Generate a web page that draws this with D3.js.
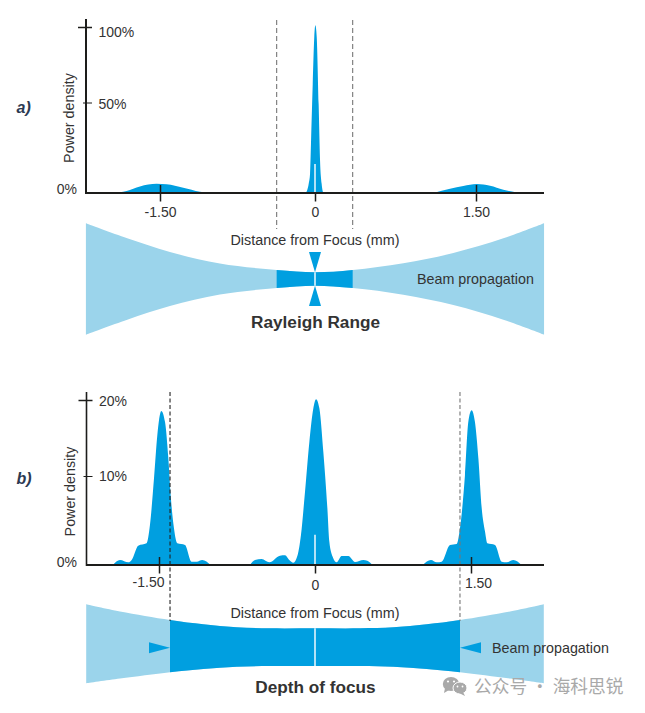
<!DOCTYPE html>
<html><head><meta charset="utf-8">
<script src="https://cdn.jsdelivr.net/npm/d3@7"></script>
<style>
html,body{margin:0;padding:0;background:#fff}
svg{display:block}
text{font-family:"Liberation Sans",Arial,sans-serif;fill:#333}
</style></head><body>
<svg id="c" width="645" height="713"></svg>
<script>
// ---------- data (mm, %) ----------
const panelATicks=[-1.5,0,1.5];
const panelATickLabels=["-1.50","0","1.50"];
const yATicks=[0,50,100];
const yBTicks=[0,10,20];

const aLeftLobeX=[-1.955,-1.823,-1.694,-1.533,-1.436,-1.275,-1.113,-1.007];
const aLeftLobeY=[0,1.1,3.66,5.1,4.78,2.9,.71,0];
const aCentreX=[-.087,-.061,-.048,-.039,-.022,-.007,.003,.016,.034,.047,.062,.077];
const aCentreY=[0,5.1,10.6,27.1,62.2,93.3,101.1,93.3,49.1,18,5.1,0];
const aRightLobeX=[1.103,1.258,1.382,1.507,1.631,1.755,1.895];
const aRightLobeY=[0,2.4,3.85,4.95,4,1.8,0];

const bLeftX=[-1.945,-1.875,-1.795,-1.763,-1.70,-1.62,-1.587,-1.548,-1.516,-1.478,-1.442,-1.41,-1.388,-1.356,-1.324,-1.25,-1.186,-1.137,-1.084,-1.003];
const bLeftY=[0,.56,.3,.56,2.17,2.44,4.5,9.74,15.4,18.55,17.1,12.3,7.87,4.12,2.44,2.25,.37,.37,.56,0];
const bCentreX=[-.625,-.577,-.513,-.439,-.337,-.288,-.247,-.208,-.167,-.135,-.096,-.054,-.016,.010,.042,.080,.119,.138,.170,.208,.256,.321,.385,.465,.503,.554];
const bCentreY=[0,.56,.67,.3,1.04,1.09,.56,.26,1.12,3.37,8.24,14.5,18.9,20.1,18.9,13.2,6.37,2.62,.93,.3,1.01,1.01,.34,.56,.48,0];
const bRightX=[1.035,1.115,1.170,1.218,1.298,1.362,1.394,1.442,1.474,1.506,1.538,1.571,1.603,1.635,1.657,1.731,1.795,1.843,1.907,1.987];
const bRightY=[0,.56,.3,.37,2.25,2.36,4.12,10.13,17.1,18.65,17.1,12.3,6.37,3.74,2.44,2.25,.37,.3,.56,0];

// beam envelopes (distance mm, half-width in beam units)
const aBeamX=[-2.217,-1.817,-1.404,-.92,-.371,0,.351,.823,1.289,1.755,2.134];
const aBeamHalf=[55.7,40.7,27,15.5,9,6.7,9,15.7,26,40.7,55.7];
const bBeamX=[-2.2,-1.875,-1.394,-1.074,-.753,-.433,0,.433,.753,1.074,1.394,1.875,2.2];
const bBeamTop=[39.7,32.5,24,19.7,16.7,15.7,15.7,15.7,16.7,19.7,24,32.5,39.7];
const bBeamBottom=[39.3,34.6,28.3,25,22.7,22,22,22,22.7,25,28.3,34.6,39.3];
const rayleighLimits=[-.371,.351];
const depthLimits=[-1.394,1.394];

// ---------- drawing ----------
const LIGHT="#9bd4eb",DARK="#009fe0",INK="#1d1d1b";
const svg=d3.select("#c");
const zip=(xs,ys)=>xs.map((x,i)=>[x,ys[i]]);

function panel(o){
  const x=d3.scaleLinear().domain([-1.5,0,1.5]).range(o.xRange);
  const y=d3.scaleLinear().domain(o.yDomain).range(o.yRange);
  const beam=d3.scaleLinear().domain([-60,60]).range([o.beamC+60,o.beamC-60]);
  const g=svg.append("g");
  const area=d3.area().x(d=>x(d[0])).y0(y(0)).y1(d=>y(d[1])).curve(d3.curveMonotoneX);
  o.peaks.forEach(p=>g.append("path").attr("d",area(p)).attr("fill",DARK));
  // slit in central peak
  g.append("line").attr("x1",x(0)).attr("x2",x(0)).attr("y1",y(o.slit)).attr("y2",y(0))
    .attr("stroke","#fff").attr("stroke-width",1.4);

  // beam
  const top=o.beamTop, bot=o.beamBot;
  const pts=o.beamX.map((d,i)=>({d,t:top[i],b:bot[i]}));
  const ba=d3.area().x(d=>x(d.d)).y0(d=>beam(-d.b)).y1(d=>beam(d.t)).curve(d3.curveCatmullRom.alpha(0.5));
  g.append("path").attr("d",ba(pts)).attr("fill",LIGHT);
  const clipId="clip"+o.id;
  g.append("clipPath").attr("id",clipId).append("rect")
    .attr("x",x(o.limits[0])).attr("width",x(o.limits[1])-x(o.limits[0])).attr("y",o.beamC-70).attr("height",140);
  g.append("path").attr("d",ba(pts)).attr("fill",DARK).attr("clip-path",`url(#${clipId})`);
  g.append("line").attr("x1",x(0)).attr("x2",x(0)).attr("y1",beam(top[o.beamX.indexOf(0)])).attr("y2",beam(-bot[o.beamX.indexOf(0)]))
    .attr("stroke","#fff").attr("stroke-width",1.4);

  // dashed limits
  o.limits.forEach((l,i)=>g.append("line").attr("x1",x(l)).attr("x2",x(l))
    .attr("y1",o.dashTop).attr("y2",o.dashBottom).attr("stroke",o.dashColors[i]).attr("stroke-width",1.1).attr("stroke-dasharray",o.dash));

  // axes
  const xa=d3.axisBottom(x).tickValues(panelATicks).tickFormat((d,i)=>panelATickLabels[i]).tickSize(o.xTickDown).tickPadding(6);
  const xg=g.append("g").attr("transform",`translate(0,${y(0)})`).call(xa);
  xg.select(".domain").remove();
  xg.selectAll("line").attr("stroke",INK).attr("stroke-width",1.5).attr("y1",d=>d===0?0:-o.xTickUp);
  xg.selectAll("text").attr("font-size",14).style("font-family",null).attr("fill","#333")
    .attr("y",null).attr("dy",null)
    .attr("x",(d,i)=>o.xLabelDx[i]).attr("y",(d,i)=>o.xLabelY[i]-y(0));
  g.append("line").attr("x1",o.axisX).attr("x2",544).attr("y1",y(0)).attr("y2",y(0)).attr("stroke",INK).attr("stroke-width",2);

  const ya=d3.axisLeft(y).tickValues(o.yTicks).tickFormat(d=>d+"%").tickSize(0);
  const yg=g.append("g").attr("transform",`translate(${o.axisX},0)`).call(ya);
  yg.select(".domain").remove();
  yg.selectAll("line").attr("stroke",INK).attr("stroke-width",(d,i)=>i===2?1.5:1)
    .attr("x1",(d,i)=>i===0?0:-[0,3,8][i]).attr("x2",(d,i)=>i===0?0:[0,6,6][i]);
  yg.selectAll("text").attr("font-size",14).style("font-family",null).attr("fill","#333")
    .attr("text-anchor",(d,i)=>i===0?"end":"start").attr("dy",null)
    .attr("x",(d,i)=>o.yLabelX[i]-o.axisX).attr("y",(d,i)=>o.yLabelY[i]-y(d));
  g.append("line").attr("x1",o.axisX).attr("x2",o.axisX).attr("y1",o.axisTop).attr("y2",y(0)+1).attr("stroke",INK).attr("stroke-width",o.axisW);

  const t=(s,px,py,a,fs,w)=>g.append("text").text(s).attr("x",px).attr("y",py).attr("text-anchor",a||"start")
    .attr("font-size",fs||14).attr("font-weight",w||null);
  t("Distance from Focus (mm)",315,o.distY,"middle",14.35);
  t("Beam propagation",o.bpX,o.bpY,"start",14.3);
  t(o.title,o.titleX,o.titleY,"middle",17.2,"bold");
  g.append("text").text("Power density").attr("font-size",14.3)
    .attr("transform",`translate(${o.pdX},${o.pdY}) rotate(-90)`).attr("text-anchor","middle");
  g.append("text").text(o.letter).attr("x",16.5).attr("y",o.letterY).attr("font-size",16)
    .attr("font-style","italic").attr("font-weight","bold").style("fill","#2c3a52");

  o.arrows(g,x,beam);
}

panel({id:"a",letter:"a)",letterY:113,xRange:[160,315,476],yDomain:[0,50,100],yRange:[193,102.5,27],
  yTicks:yATicks,yLabelX:[77,98.5,98.5],yLabelY:[193.5,108,36.5],
  peaks:[zip(aLeftLobeX,aLeftLobeY),zip(aCentreX,aCentreY),zip(aRightLobeX,aRightLobeY)],slit:16,
  beamC:279,beamX:aBeamX,beamTop:aBeamHalf,beamBot:aBeamHalf,limits:rayleighLimits,
  dashTop:20,dashBottom:229,dashColors:["#777","#777"],dash:"5 3",
  xTickDown:8.5,xTickUp:8,xLabelDx:[0,0,0],xLabelY:[216.5,216.5,216.5],
  axisX:86,axisTop:19,axisW:2,distY:245,bpX:417,bpY:284,title:"Rayleigh Range",titleX:315.5,titleY:327.5,pdX:74,pdY:118,
  arrows(g,x,beam){
    const c=x(0);
    const up=d3.line()([[c-6,beam(27)],[c+6,beam(27)],[c,beam(6.7)]]);
    const dn=d3.line()([[c-6,beam(-27)],[c+6,beam(-27)],[c,beam(-6.7)]]);
    g.append("path").attr("d",up+"Z").attr("fill",DARK);
    g.append("path").attr("d",dn+"Z").attr("fill",DARK);
  }});

panel({id:"b",letter:"b)",letterY:484,xRange:[159,315,471],yDomain:[0,10,20],yRange:[565,476,400],
  yTicks:yBTicks,yLabelX:[77,99,99],yLabelY:[566,480.5,405],
  peaks:[zip(bLeftX,bLeftY),zip(bCentreX,bCentreY),zip(bRightX,bRightY)],slit:3.4,
  beamC:644,beamX:bBeamX,beamTop:bBeamTop,beamBot:bBeamBottom,limits:depthLimits,
  dashTop:392,dashBottom:621,dashColors:["#222","#777"],dash:"4 2.5",
  xTickDown:8.5,xTickUp:8,xLabelDx:[-11,0,7],xLabelY:[587,589.5,588],
  axisX:86.5,axisTop:392,axisW:1.6,distY:618,bpX:492,bpY:652.5,title:"Depth of focus",titleX:315.5,titleY:693,pdX:74.5,pdY:491.5,
  arrows(g,x,beam){
    const h=5.5,yc=beam(-3.7);
    const l=x(depthLimits[0]),r=x(depthLimits[1]);
    g.append("path").attr("d",d3.line()([[l-21,yc-h],[l-21,yc+h],[l,yc]])+"Z").attr("fill",DARK);
    g.append("path").attr("d",d3.line()([[r+21,yc-h],[r+21,yc+h],[r,yc]])+"Z").attr("fill",DARK);
  }});

// watermark
const wm=svg.append("g");
const wmC="#a9a9a9";
wm.append("ellipse").attr("cx",451).attr("cy",684).attr("rx",8.2).attr("ry",7).attr("fill",wmC);
wm.append("path").attr("d",d3.line()([[445,688],[444,693],[449,690]])+"Z").attr("fill",wmC);
wm.append("ellipse").attr("cx",460).attr("cy",688).attr("rx",7).attr("ry",6).attr("fill",wmC).attr("stroke","#fff").attr("stroke-width",1);
wm.append("path").attr("d",d3.line()([[463,692],[465,696],[459,693]])+"Z").attr("fill",wmC);
[[448,681.5,1.1],[454,681.5,1.1],[457.5,686.5,.9],[462.5,686.5,.9]].forEach(e=>
  wm.append("circle").attr("cx",e[0]).attr("cy",e[1]).attr("r",e[2]).attr("fill","#fff"));
wm.append("text").text("公众号 · 海科思锐").attr("x",474).attr("y",692.5).attr("font-size",17.7)
  .style("font-family",'"Noto Sans CJK SC"').style("fill",wmC);
</script>
</body></html>
